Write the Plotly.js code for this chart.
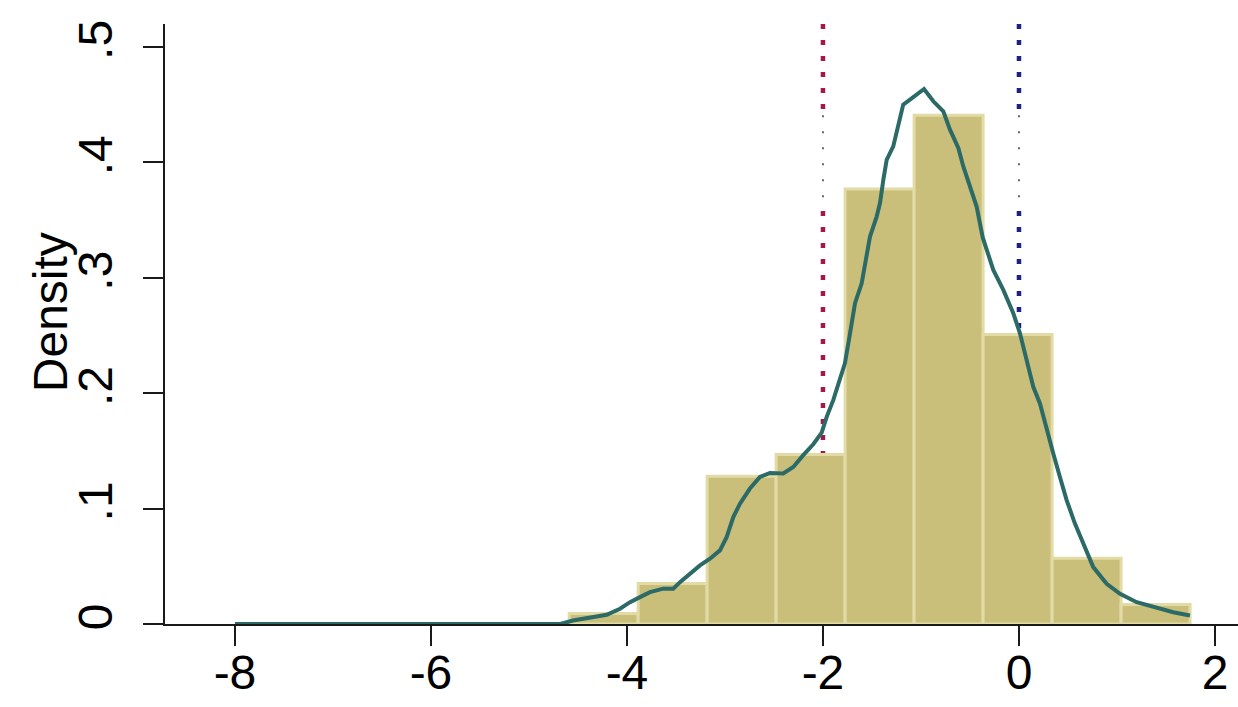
<!DOCTYPE html>
<html>
<head>
<meta charset="utf-8">
<script src="https://cdn.plot.ly/plotly-3.0.1.min.js"></script>
<style>
  html, body { margin: 0; padding: 0; background: #ffffff; }
  #chart { width: 1238px; height: 707px; }
</style>
</head>
<body>
<div id="chart"></div>
<script>
// ---- data ----
const binEdges = [-4.59, -3.886, -3.182, -2.478, -1.774, -1.07, -0.366, 0.338, 1.042, 1.746];
const binDensity = [0.009, 0.035, 0.128, 0.147, 0.377, 0.441, 0.251, 0.057, 0.017];

const kdeX = [-8, -6, -4.68, -4.551, -4.378, -4.207, -4.071, -3.969, -3.867, -3.765, -3.63, -3.528,
  -3.459, -3.357, -3.255, -3.153, -3.051, -2.983, -2.915, -2.847, -2.745, -2.643, -2.541, -2.405,
  -2.303, -2.201, -2.099, -2.013, -1.962, -1.895, -1.826, -1.776, -1.724, -1.673, -1.605, -1.554,
  -1.52, -1.452, -1.418, -1.384, -1.35, -1.283, -1.232, -1.181, -1.112, -1.044, -0.969, -0.874,
  -0.772, -0.704, -0.619, -0.568, -0.5, -0.432, -0.37, -0.262, -0.16, -0.058, 0.01, 0.079, 0.146,
  0.214, 0.283, 0.35, 0.418, 0.487, 0.571, 0.656, 0.758, 0.895, 1.031, 1.201, 1.371, 1.574, 1.745];
const kdeY = [0, 0, 0, 0.003, 0.0054, 0.008, 0.0132, 0.0189, 0.0233, 0.0276, 0.0306, 0.0306,
  0.0363, 0.0436, 0.0508, 0.0566, 0.0638, 0.0753, 0.0927, 0.1043, 0.1174, 0.1274, 0.1309, 0.1304,
  0.1361, 0.1463, 0.1558, 0.1658, 0.1795, 0.194, 0.2142, 0.2259, 0.2519, 0.278, 0.2953, 0.3184,
  0.3358, 0.3531, 0.3648, 0.385, 0.4023, 0.4139, 0.4313, 0.4501, 0.4544, 0.4588, 0.4637, 0.453,
  0.4443, 0.4284, 0.4125, 0.3965, 0.3792, 0.3618, 0.335, 0.3069, 0.2895, 0.2693, 0.2519, 0.2287,
  0.2056, 0.1911, 0.168, 0.1477, 0.1274, 0.1072, 0.087, 0.0696, 0.0493, 0.0349, 0.0262, 0.0189,
  0.0146, 0.0102, 0.0074];

const refLineX = [-2, 0];
const refLineColors = ['#a3174b', '#1f1f8a'];

const xTickVals = [-8, -6, -4, -2, 0, 2];
const xTickText = ['-8', '-6', '-4', '-2', '0', '2'];
const yTickVals = [0, 0.1, 0.2, 0.3, 0.4, 0.5];
const yTickText = ['0', '.1', '.2', '.3', '.4', '.5'];
const yTitle = 'Density';

// ---- build traces ----
const centers = [], widths = [];
for (let i = 0; i < binDensity.length; i++) {
  centers.push((binEdges[i] + binEdges[i + 1]) / 2);
  widths.push(binEdges[i + 1] - binEdges[i]);
}

const bars = {
  type: 'bar', x: centers, y: binDensity, width: widths,
  marker: { color: '#c9bf7b', line: { color: '#e2dba6', width: 3 } },
  hoverinfo: 'skip', showlegend: false
};
const kde = {
  type: 'scatter', mode: 'lines', x: kdeX, y: kdeY,
  line: { color: '#2b6a66', width: 4 },
  hoverinfo: 'skip', showlegend: false
};

const yTop = 0.52, thinTop = 0.441, thinBottom = 0.358;
const shapes = [];
refLineX.forEach((xv, i) => {
  const c = refLineColors[i];
  shapes.push({ type: 'line', layer: 'below', xref: 'x', yref: 'y', x0: xv, x1: xv, y0: yTop, y1: thinTop,
    line: { color: c, width: 4.5, dash: '5px,11px' } });
  shapes.push({ type: 'line', layer: 'below', xref: 'x', yref: 'y', x0: xv, x1: xv, y0: thinTop, y1: thinBottom,
    line: { color: '#4a3a55', width: 1.6, dash: '2px,14px' } });
  shapes.push({ type: 'line', layer: 'below', xref: 'x', yref: 'y', x0: xv, x1: xv, y0: thinBottom, y1: 0,
    line: { color: c, width: 4.5, dash: '5px,11px' } });
});

const font = { family: 'Liberation Sans, Arial, sans-serif', size: 48, color: '#000000' };

const layout = {
  width: 1238, height: 707,
  margin: { l: 165, r: 0, t: 24, b: 83, pad: 0 },
  paper_bgcolor: '#ffffff', plot_bgcolor: '#ffffff',
  font: font,
  bargap: 0,
  showlegend: false,
  xaxis: {
    range: [-8.714, 2.235], tickvals: xTickVals, ticktext: xTickText,
    showgrid: false, zeroline: false, showline: true, linecolor: '#1a1a1a', linewidth: 2,
    ticks: 'outside', ticklen: 20, tickwidth: 2, tickcolor: '#1a1a1a',
    tickfont: font, ticklabelstandoff: -15
  },
  yaxis: {
    range: [0, yTop], tickvals: yTickVals, ticktext: yTickText, tickangle: -90,
    showgrid: false, zeroline: false, showline: true, linecolor: '#1a1a1a', linewidth: 2,
    ticks: 'outside', ticklen: 20, tickwidth: 2, tickcolor: '#1a1a1a',
    tickfont: font, ticklabelstandoff: 12
  },
  annotations: [{
    text: yTitle, xref: 'paper', yref: 'paper', x: -0.107, y: 0.52,
    xanchor: 'center', yanchor: 'middle', textangle: -90, showarrow: false, font: font
  }],
  shapes: shapes
};

Plotly.newPlot('chart', [bars, kde], layout, { staticPlot: true, displayModeBar: false });
</script>
</body>
</html>
